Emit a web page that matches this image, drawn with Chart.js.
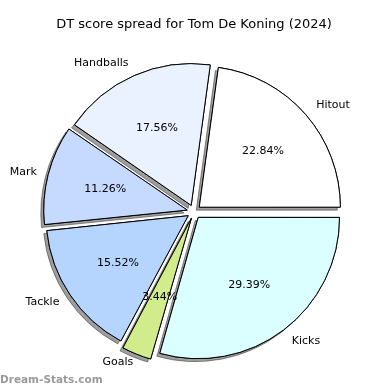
<!DOCTYPE html>
<html>
<head>
<meta charset="utf-8">
<script src="https://cdn.jsdelivr.net/npm/chart.js@4.4.0/dist/chart.umd.min.js"></script>
<style>
  html, body { margin: 0; padding: 0; background: #fff; }
  #wrap { width: 390px; height: 390px; }
</style>
</head>
<body>
<div id="wrap"><canvas id="pie" width="390" height="390"></canvas></div>
<script>
// Slices in the source order (counter-clockwise from 3 o'clock)
const categories = ['Hitout', 'Handballs', 'Mark', 'Tackle', 'Goals', 'Kicks'];
const shares = [22.84, 17.56, 11.26, 15.52, 3.44, 29.39];
const sliceColors = ['#ffffff', '#eaf1ff', '#c6d9ff', '#b5d5ff', '#d2ec8c', '#dbffff'];
const chartTitle = 'DT score spread for Tom De Koning (2024)';
const watermark = 'Dream-Stats.com';

// Chart.js goes clockwise, so flip the order to keep the same layout
const labels = categories.slice().reverse();
const values = shares.slice().reverse();
const colors = sliceColors.slice().reverse();

// Draw every slice once with a drop shadow, the normal pass then covers them
const shadowPlugin = {
    id: 'sliceShadow',
    beforeDatasetsDraw(chart) {
        const ctx = chart.ctx;
        const meta = chart.getDatasetMeta(0);
        ctx.save();
        ctx.shadowColor = 'rgba(0, 0, 0, 0.38)';
        ctx.shadowOffsetX = -3;
        ctx.shadowOffsetY = 3;
        ctx.shadowBlur = 0;
        meta.data.forEach(arc => arc.draw(ctx));
        ctx.restore();
    }
};

// Names outside the pie, percentages inside
const labelPlugin = {
    id: 'sliceLabels',
    afterDatasetsDraw(chart) {
        const ctx = chart.ctx;
        const meta = chart.getDatasetMeta(0);
        const ds = chart.data.datasets[0];
        ctx.save();
        ctx.font = '11px "DejaVu Sans"';
        ctx.fillStyle = '#000';
        ctx.textBaseline = 'middle';
        meta.data.forEach((arc, i) => {
            const p = arc.getProps(['x', 'y', 'startAngle', 'endAngle', 'outerRadius'], true);
            const mid = (p.startAngle + p.endAngle) / 2;
            const shift = (arc.options.offset || 0) / 4;
            const cos = Math.cos(mid), sin = Math.sin(mid);

            const ld = p.outerRadius * 1.1 + shift;
            ctx.textAlign = cos > 0 ? 'left' : 'right';
            ctx.fillText(chart.data.labels[i], p.x + cos * ld, p.y + sin * ld);

            const pd = p.outerRadius * 0.6 + shift;
            ctx.textAlign = 'center';
            ctx.fillText(ds.data[i].toFixed(2) + '%', p.x + cos * pd, p.y + sin * pd);
        });
        ctx.restore();
    }
};

const watermarkPlugin = {
    id: 'watermark',
    afterDraw(chart) {
        const ctx = chart.ctx;
        ctx.save();
        ctx.font = 'bold 10.5px "DejaVu Sans"';
        ctx.fillStyle = '#9a9a9a';
        ctx.textAlign = 'left';
        ctx.textBaseline = 'middle';
        ctx.fillText(watermark, 0, 380);
        ctx.restore();
    }
};

new Chart(document.getElementById('pie'), {
    type: 'pie',
    data: {
        labels: labels,
        datasets: [{
            data: values,
            backgroundColor: colors,
            borderColor: '#000',
            borderWidth: 1,
            offset: 28,
            hoverOffset: 28
        }]
    },
    options: {
        responsive: false,
        animation: false,
        events: [],
        rotation: 90,
        radius: 141,
        layout: {
            padding: { left: 0, right: 2, top: 0, bottom: 11 }
        },
        plugins: {
            legend: { display: false },
            tooltip: { enabled: false },
            title: {
                display: true,
                text: chartTitle,
                color: '#000',
                font: { family: 'DejaVu Sans', size: 13, weight: 'normal' },
                padding: { top: 17, bottom: 12 }
            }
        }
    },
    plugins: [shadowPlugin, labelPlugin, watermarkPlugin]
});
</script>
</body>
</html>
